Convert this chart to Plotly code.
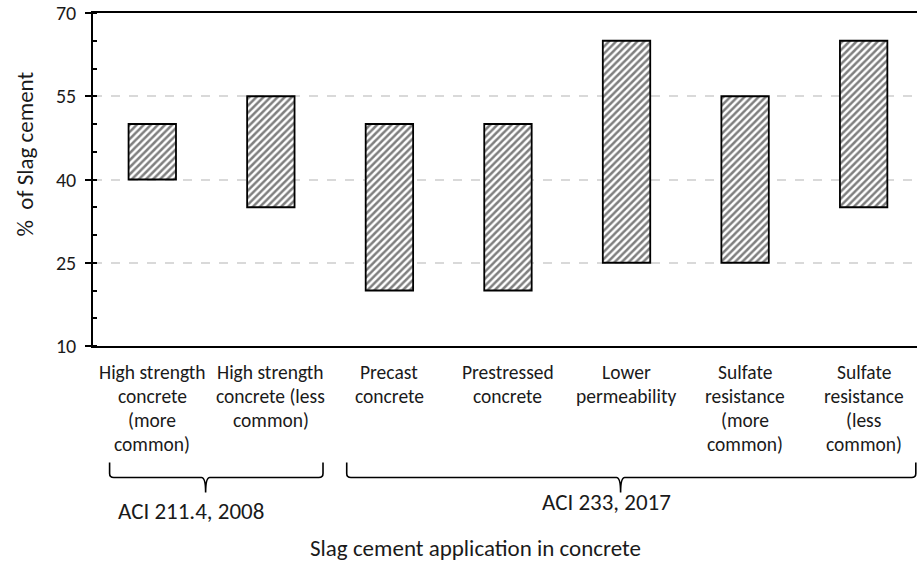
import plotly.graph_objects as go

# Recommended slag cement ranges by application
categories = [
    "High strength\nconcrete\n(more\ncommon)",
    "High strength\nconcrete (less\ncommon)",
    "Precast\nconcrete",
    "Prestressed\nconcrete",
    "Lower\npermeability",
    "Sulfate\nresistance\n(more\ncommon)",
    "Sulfate\nresistance\n(less\ncommon)",
]
low_pct = [40, 35, 20, 20, 25, 25, 35]
high_pct = [50, 55, 50, 50, 65, 55, 65]

# source groups: label, first category, last category
group_labels = ["ACI 211.4, 2008", "ACI 233, 2017"]
group_first = [0, 2]
group_last = [1, 6]

y_ticks = [10, 25, 40, 55, 70]

FONT = "Carlito, Lato, sans-serif"
TEXT = "#1a1a1a"

idx = list(range(len(categories)))

fig = go.Figure()
fig.add_trace(go.Bar(
    x=idx,
    y=[h - l for h, l in zip(high_pct, low_pct)],
    base=low_pct,
    width=0.4,
    marker=dict(
        color="white",
        line=dict(color="black", width=1.8),
        pattern=dict(shape="/", fgcolor="black", bgcolor="white", size=5, solidity=0.5),
    ),
    showlegend=False,
    hoverinfo="skip",
))

annotations = []

# category labels, one annotation per line to get Excel-like line spacing
for i, lab in enumerate(categories):
    for k, line in enumerate(lab.split("\n")):
        annotations.append(dict(
            x=i, y=0, xref="x", yref="paper", text=line, showarrow=False,
            yanchor="top", xanchor="center", yshift=-12 - 24 * k,
            font=dict(family=FONT, size=19.5, color=TEXT),
        ))

# curly braces below the axis for the source groups
shapes = []
brace_top, brace_mid, brace_tip = -0.35, -0.395, -0.44
label_y = [-0.495, -0.468]
for g, name in enumerate(group_labels):
    x0 = group_first[g] - 0.36
    x1 = group_last[g] + 0.44
    xt = (group_first[g] + group_last[g]) / 2 - 0.05
    c = 0.035
    path = (
        f"M {x0},{brace_top} L {x0},{brace_mid + 0.012} Q {x0},{brace_mid} {x0 + c},{brace_mid} "
        f"L {xt - c},{brace_mid} Q {xt},{brace_mid} {xt},{brace_tip} "
        f"Q {xt},{brace_mid} {xt + c},{brace_mid} "
        f"L {x1 - c},{brace_mid} Q {x1},{brace_mid} {x1},{brace_mid + 0.012} L {x1},{brace_top}"
    )
    shapes.append(dict(type="path", xref="x", yref="paper", path=path,
                       line=dict(color="black", width=1.6)))
    annotations.append(dict(
        x=xt - 0.12, y=label_y[g], xref="x", yref="paper", text=name, showarrow=False,
        xanchor="center", yanchor="middle",
        font=dict(family=FONT, size=23, color=TEXT),
    ))

# axis titles
annotations.append(dict(
    x=0.464, y=-0.607, xref="paper", yref="paper", text="Slag cement application in concrete",
    showarrow=False, xanchor="center", yanchor="middle",
    font=dict(family=FONT, size=23, color=TEXT),
))
annotations.append(dict(
    x=-0.083, y=0.577, xref="paper", yref="paper", text="%  of Slag cement",
    showarrow=False, textangle=-90, xanchor="center", yanchor="middle",
    font=dict(family=FONT, size=23, color=TEXT),
))

fig.update_layout(
    width=917, height=565,
    margin=dict(l=93, r=0, t=13, b=219),
    plot_bgcolor="white", paper_bgcolor="white",
    font=dict(family=FONT, size=20, color=TEXT),
    shapes=shapes,
    annotations=annotations,
    xaxis=dict(
        range=[-0.5, 6.45], showticklabels=False, ticks="", showgrid=False,
        showline=True, linecolor="black", linewidth=1.5, mirror=True, zeroline=False,
        fixedrange=True,
    ),
    yaxis=dict(
        range=[10, 70], tickvals=y_ticks, ticks="outside", ticklen=6, tickwidth=1.5,
        tickcolor="black", showline=True, linecolor="black", linewidth=1.5,
        showgrid=True, gridcolor="#d9d9d9", gridwidth=1.5, griddash="dash",
        zeroline=False, ticklabelstandoff=5,
        tickfont=dict(family=FONT, size=20, color=TEXT),
        minor=dict(dtick=5, ticks="inside", ticklen=4, tickwidth=1.5, tickcolor="black", showgrid=False),
        fixedrange=True,
    ),
)

# drop the default 8px body margin so the figure fills the window exactly
fig.write_html(
    "out.html",
    config={"displayModeBar": False},
    post_script="document.body.style.margin='0px';",
)
